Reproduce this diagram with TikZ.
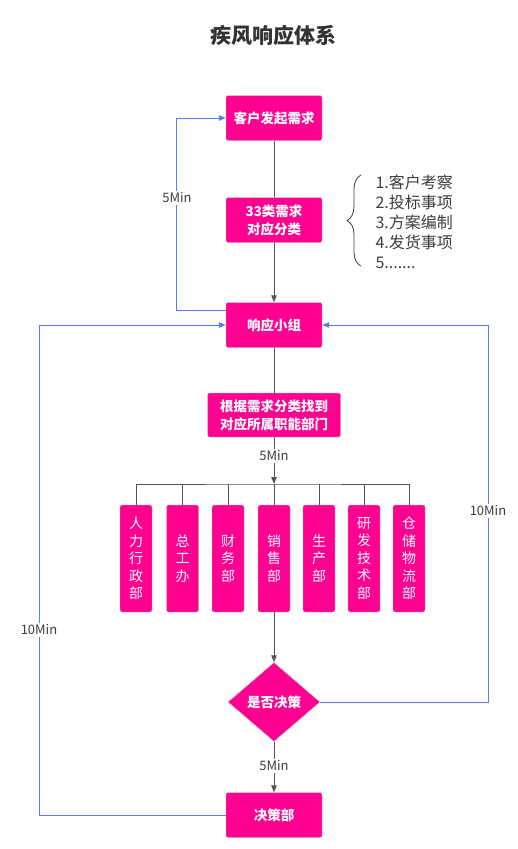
\documentclass[tikz,border=0pt]{standalone}
\usepackage{fontspec}
\setmainfont{Noto Sans CJK SC}
\usetikzlibrary{arrows.meta,shapes.geometric,decorations.pathreplacing}
\definecolor{hotpink}{RGB}{255,0,144}
\definecolor{loopblue}{RGB}{88,122,238}
\definecolor{flowgray}{RGB}{85,85,85}
\definecolor{labelgray}{RGB}{60,60,60}
\begin{document}
\begin{tikzpicture}[x=1pt,y=-1pt,
    pink box/.style={rectangle,rounded corners=2pt,draw=gray!45,fill=hotpink,text=white,align=center,inner sep=0pt,
        font=\fontsize{13.5}{18}\selectfont\bfseries,minimum width=96pt,minimum height=45pt},
    dept box/.style={pink box,minimum width=32pt,minimum height=107pt,font=\fontsize{14}{17.5}\selectfont},
    choice node/.style={diamond,draw=gray!45,fill=hotpink,text=white,inner sep=0pt,
        font=\fontsize{13.5}{18}\selectfont\bfseries,minimum width=92pt,minimum height=79pt},
    time label/.style={fill=white,text=labelgray,inner sep=1.5pt,font=\fontsize{13}{15}\selectfont},
    flow line/.style={draw=flowgray,line width=0.9pt,-{Triangle[length=7pt,width=5.5pt]}},
    loop line/.style={draw=loopblue,line width=0.9pt,-{Triangle[length=7pt,width=5.5pt]}}]
        \useasboundingbox (0,0) rectangle (517,849);

        \node[font=\fontsize{21}{24}\selectfont\bfseries,text=black!80] at (273, 35) (title) {疾风响应体系};

        \node[pink box] at (274, 118) (req) {客户发起需求};
        \node[pink box] at (274, 220) (cls) {33类需求\\对应分类};
        \node[pink box] at (274, 325) (resp) {响应小组};
        \node[pink box,minimum width=133pt,minimum height=44pt] at (274, 415) (find) {根据需求分类找到\\对应所属职能部门};

        \node[dept box] at (136, 558.5) (hr) {人\\力\\行\\政\\部};
        \node[dept box] at (182.5, 558.5) (gm) {总\\工\\办};
        \node[dept box] at (228, 558.5) (fin) {财\\务\\部};
        \node[dept box] at (274, 558.5) (sale) {销\\售\\部};
        \node[dept box] at (319, 558.5) (prod) {生\\产\\部};
        \node[dept box] at (364, 558.5) (rd) {研\\发\\技\\术\\部};
        \node[dept box] at (409, 558.5) (stock) {仓\\储\\物\\流\\部};

        \node[choice node] at (274, 702) (ask) {是否决策};
        \node[pink box] at (274, 815) (boss) {决策部};

        % list of demand types
        \node[anchor=west,align=left,text=labelgray,font=\fontsize{16}{20}\selectfont] at (372, 222) (types)
            {1.客户考察\\2.投标事项\\3.方案编制\\4.发货事项\\5.......};
        \draw[draw=labelgray,line width=0.8pt,decorate,decoration={brace,amplitude=14pt}] (361, 266) -- (361, 175);

        % main flow
        \coordinate (bus) at (274, 484);
        \draw[flow line,-] (req) -- (cls);
        \draw[flow line] (cls) -- (resp);
        \draw[flow line,-] (resp) -- (find);
        \draw[flow line] (find) -- node[time label,pos=0.4] (t1) {5Min} (bus);
        \draw[flow line,-] (hr.north) |- (bus) -| (stock.north);
        \foreach \d in {gm,fin,sale,prod,rd}
            \draw[flow line,-] (\d.north) -- (\d.north |- bus);
        \draw[flow line] (sale) -- (ask);
        \draw[flow line] (ask) -- node[time label,pos=0.48] (t2) {5Min} (boss);

        % feedback loops
        \coordinate (lefta) at (176, 0);
        \coordinate (leftb) at (39, 0);
        \coordinate (righta) at (488, 0);
        \draw[loop line] ([yshift=15pt]resp.west) -| (lefta |- req.west) -- (req.west);
        \draw[loop line] (boss.west) -| (leftb |- resp.west) -- (resp.west);
        \draw[loop line] (ask.east) -| (righta |- resp.east) -- (resp.east);

        \node[time label] at (177, 198) (t3) {5Min};
        \node[time label] at (39, 630) (t4) {10Min};
        \node[time label] at (488, 511) (t5) {10Min};
\end{tikzpicture}
\end{document}
